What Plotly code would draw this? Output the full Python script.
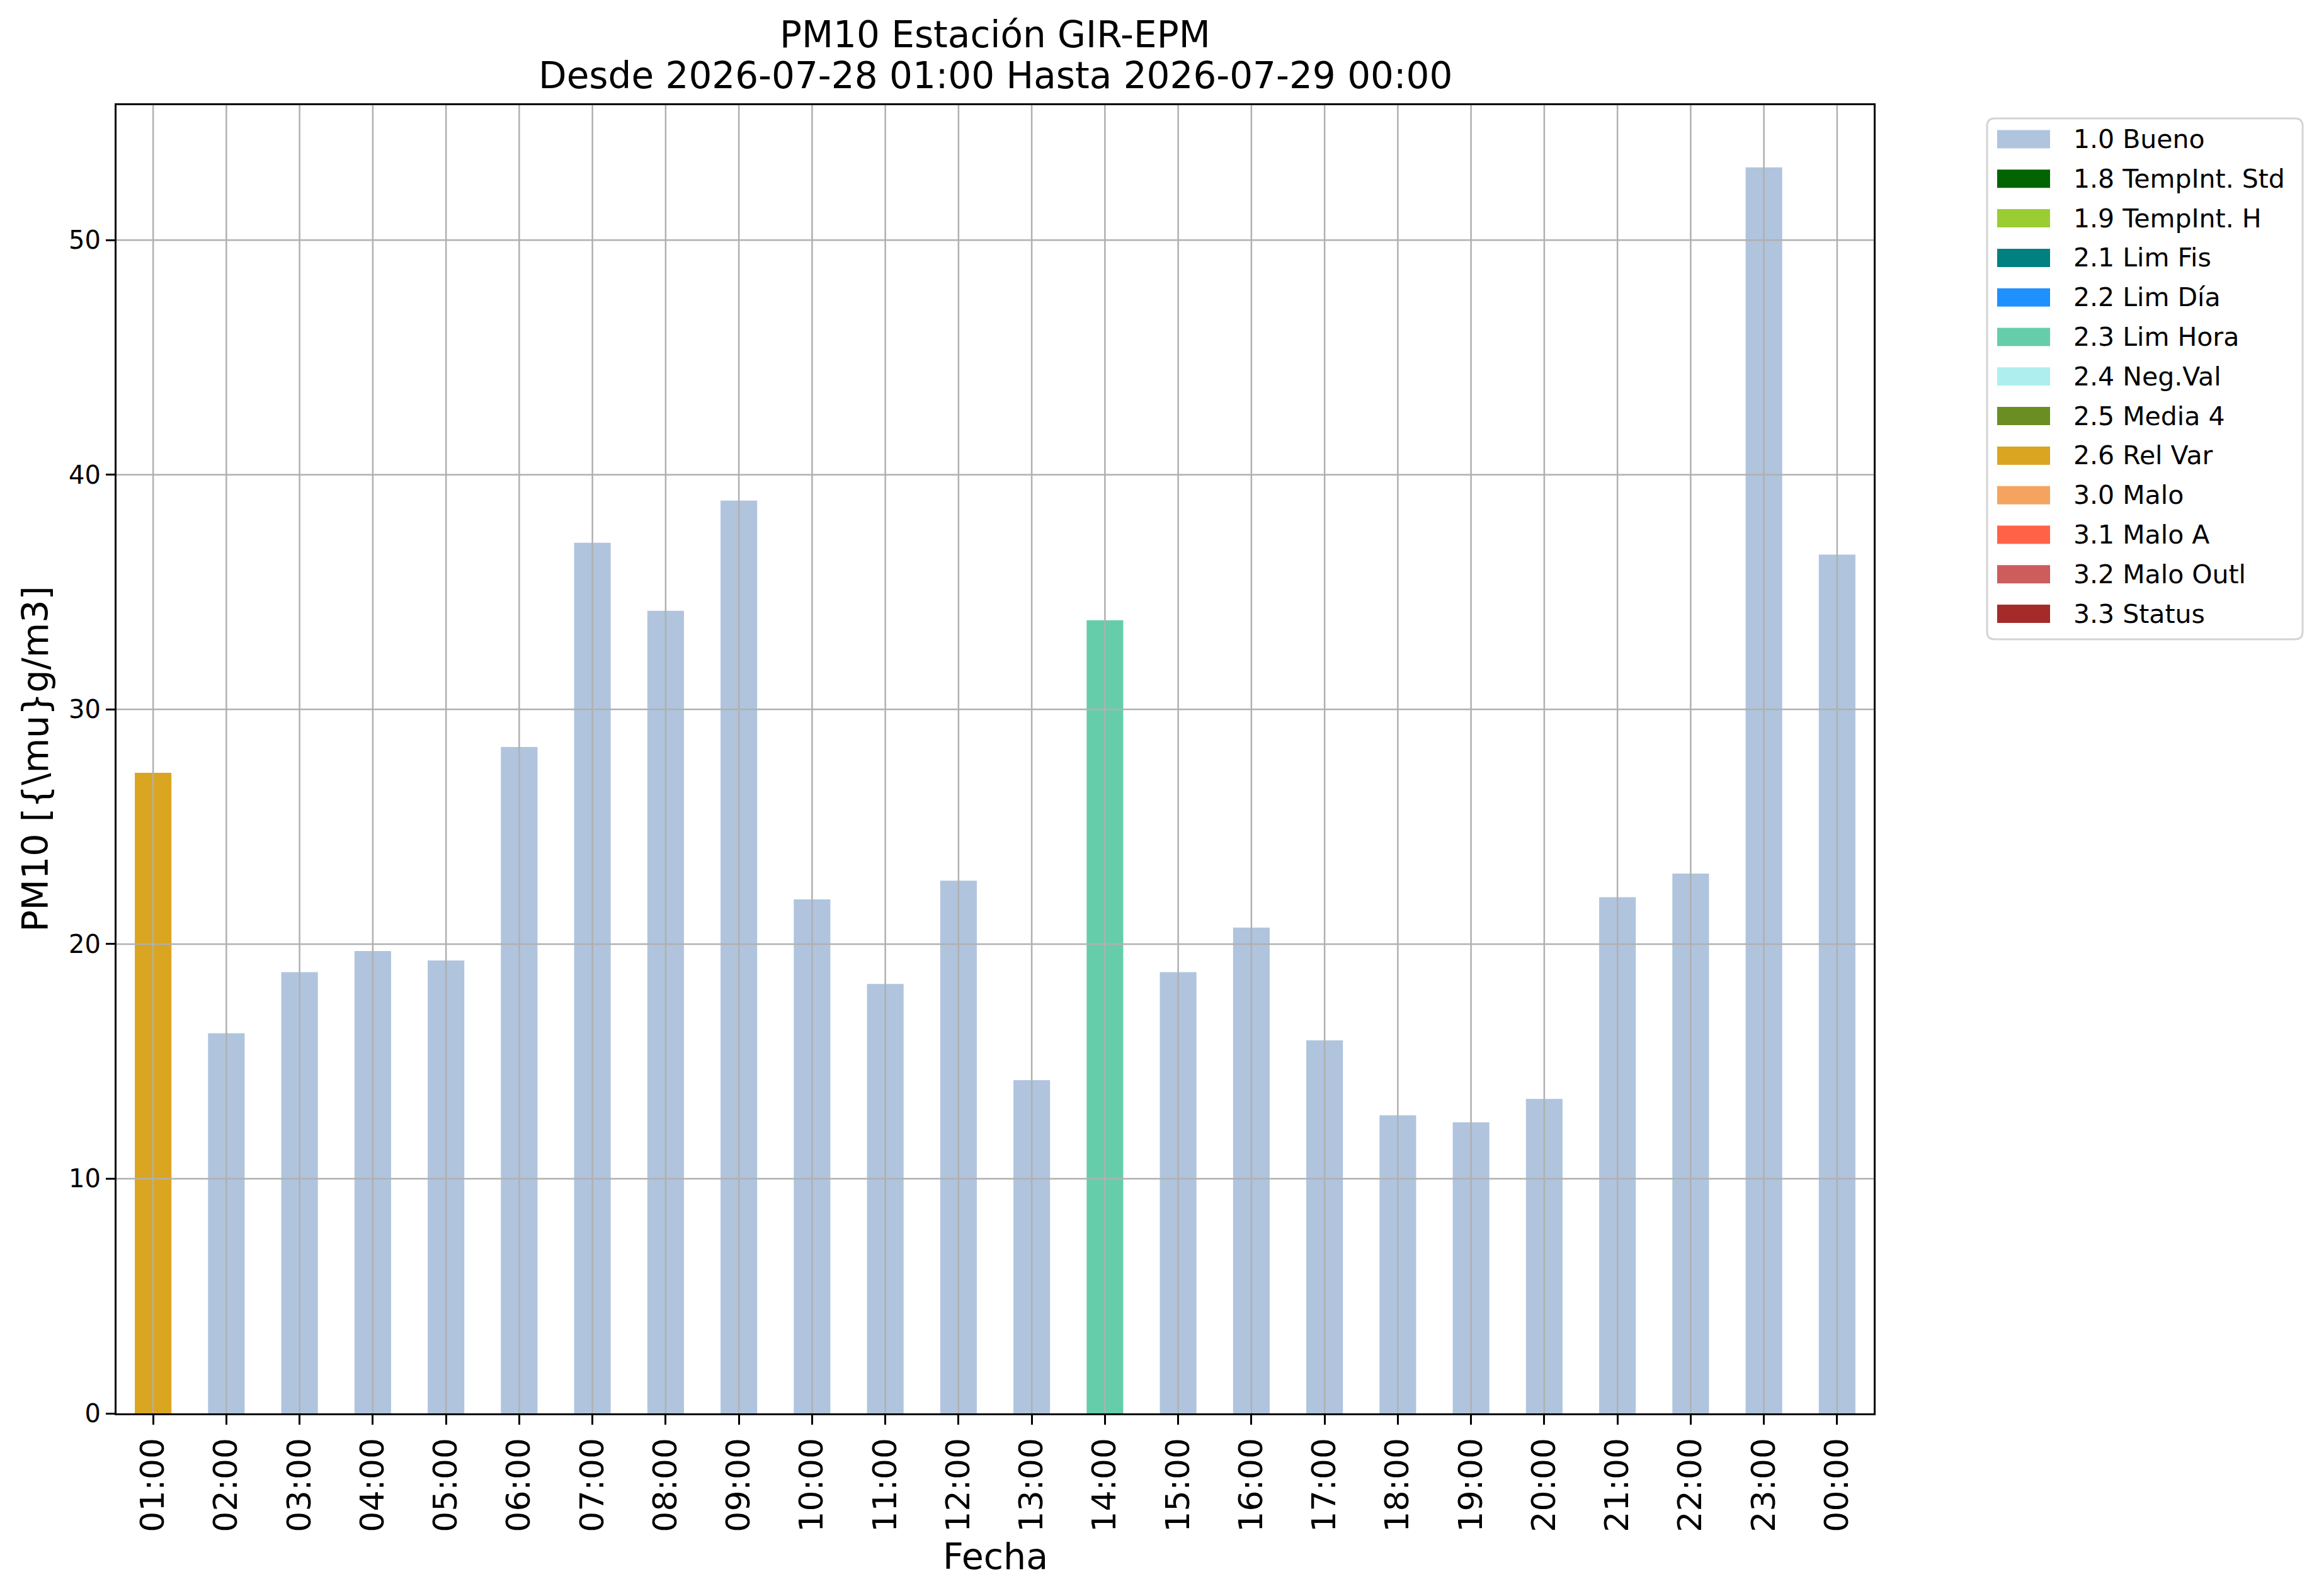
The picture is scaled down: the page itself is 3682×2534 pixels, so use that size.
import plotly.graph_objects as go

# datos horarios PM10 (28-29 jul)
horas = ["01:00", "02:00", "03:00", "04:00", "05:00", "06:00", "07:00", "08:00",
         "09:00", "10:00", "11:00", "12:00", "13:00", "14:00", "15:00", "16:00",
         "17:00", "18:00", "19:00", "20:00", "21:00", "22:00", "23:00", "00:00"]
pm10 = [27.3, 16.2, 18.8, 19.7, 19.3, 28.4, 37.1, 34.2, 38.9, 21.9, 18.3, 22.7,
        14.2, 33.8, 18.8, 20.7, 15.9, 12.7, 12.4, 13.4, 22.0, 23.0, 53.1, 36.6]
flags = ["2.6"] + ["1.0"] * 12 + ["2.3"] + ["1.0"] * 10

codigos = ["1.0", "1.8", "1.9", "2.1", "2.2", "2.3", "2.4", "2.5", "2.6",
           "3.0", "3.1", "3.2", "3.3"]
nombres = ["1.0 Bueno", "1.8 TempInt. Std", "1.9 TempInt. H", "2.1 Lim Fis",
           "2.2 Lim Día", "2.3 Lim Hora", "2.4 Neg.Val", "2.5 Media 4",
           "2.6 Rel Var", "3.0 Malo", "3.1 Malo A", "3.2 Malo Outl", "3.3 Status"]
colores = ["#B0C4DE", "#006400", "#9ACD32", "#008080", "#1E90FF", "#66CDAA",
           "#AFEEEE", "#6B8E23", "#DAA520", "#F4A460", "#FF6347", "#CD5C5C",
           "#A52A2A"]

yticks = [0, 10, 20, 30, 40, 50]

# el body del html tiene 8px de margen
OFF = 8
W, H = 3682 - OFF, 2534 - OFF
L, R, T, B = 185 - OFF, 2975 - OFF, 167 - OFF, 2244 - OFF
FONT = "DejaVu Sans"


def px(x):
    return (x - OFF - L) / (R - L)


def py(y):
    return (B - (y - OFF)) / (B - T)


fig = go.Figure()
for cod, nom, col in zip(codigos, nombres, colores):
    vals = [v if f == cod else None for v, f in zip(pm10, flags)]
    fig.add_trace(go.Bar(x=horas, y=vals, name=nom, width=0.5,
                         marker=dict(color=col, line=dict(width=0)),
                         showlegend=False))

# rejilla por encima de las barras (como matplotlib)
for h in horas:
    fig.add_shape(type="line", xref="x", yref="paper", x0=h, x1=h, y0=0, y1=1,
                  line=dict(color="#b0b0b0", width=2.5), layer="above")
for t in yticks[1:]:
    fig.add_shape(type="line", xref="paper", yref="y", x0=0, x1=1, y0=t, y1=t,
                  line=dict(color="#b0b0b0", width=2.5), layer="above")

# leyenda manual
bx0, bx1, by0, by1 = px(3155), px(3656), py(188), py(1015)
rx, ry = 12 / (R - L), 12 / (B - T)
path = (f"M{bx0+rx},{by0} L{bx1-rx},{by0} Q{bx1},{by0} {bx1},{by0-ry} "
        f"L{bx1},{by1+ry} Q{bx1},{by1} {bx1-rx},{by1} L{bx0+rx},{by1} "
        f"Q{bx0},{by1} {bx0},{by1+ry} L{bx0},{by0-ry} Q{bx0},{by0} {bx0+rx},{by0} Z")
fig.add_shape(type="path", path=path, xref="paper", yref="paper",
              fillcolor="rgba(255,255,255,0.8)", line=dict(color="#d4d4d4", width=3))
for i, (nom, col) in enumerate(zip(nombres, colores)):
    yc = 221 + i * 62.8
    fig.add_shape(type="rect", xref="paper", yref="paper",
                  x0=px(3171), x1=px(3255), y0=py(yc - 14.5), y1=py(yc + 14.5),
                  fillcolor=col, line=dict(width=0))
    fig.add_annotation(text=nom, xref="paper", yref="paper", x=px(3290), y=py(yc),
                       xanchor="left", yanchor="middle", showarrow=False,
                       font=dict(family=FONT, size=41, color="black"))

# titulos
fig.add_annotation(text="PM10 Estación GIR-EPM", xref="paper", yref="paper",
                   x=0.5, y=1, yanchor="middle", yshift=112, showarrow=False,
                   font=dict(family=FONT, size=58, color="black"))
fig.add_annotation(text="Desde 2026-07-28 01:00 Hasta 2026-07-29 00:00",
                   xref="paper", yref="paper", x=0.5, y=1, yanchor="middle",
                   yshift=47, showarrow=False,
                   font=dict(family=FONT, size=58, color="black"))
fig.add_annotation(text="Fecha", xref="paper", yref="paper", x=0.5, y=0,
                   yanchor="middle", yshift=-227, showarrow=False,
                   font=dict(family=FONT, size=57, color="black"))
fig.add_annotation(text=r"PM10 [{\mu}g/m3]", xref="paper", yref="paper",
                   x=0, y=0.5, xanchor="center", xshift=-130, textangle=-90,
                   showarrow=False, font=dict(family=FONT, size=57, color="black"))

fig.update_layout(
    width=W, height=H,
    margin=dict(l=L, r=W - R, t=T, b=H - B, pad=0),
    barmode="overlay",
    plot_bgcolor="white", paper_bgcolor="white",
    showlegend=False,
    font=dict(family=FONT, color="black"),
)
fig.update_xaxes(
    type="category", range=[-0.5, 23.5], showgrid=False,
    showline=True, linecolor="black", linewidth=3, mirror=True,
    ticks="outside", ticklen=15, tickwidth=3, tickcolor="black",
    tickangle=-90, tickfont=dict(family=FONT, size=52, color="black"),
    layer="above traces",
)
fig.update_yaxes(
    range=[0, 55.75], tickvals=yticks, showgrid=False, zeroline=False,
    showline=True, linecolor="black", linewidth=3, mirror=True,
    ticks="outside", ticklen=14, tickwidth=3, tickcolor="black",
    tickfont=dict(family=FONT, size=40, color="black"),
    layer="above traces",
)

fig.write_html("out.html")
